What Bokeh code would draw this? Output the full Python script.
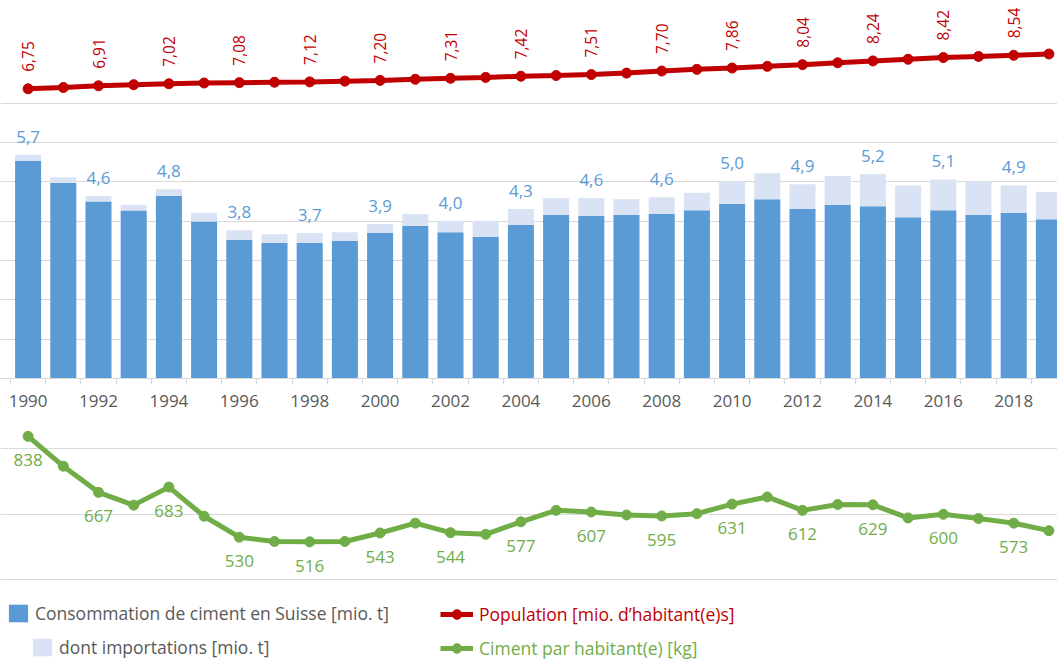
import numpy as np
from bokeh.plotting import figure
from bokeh.models import (Range1d, FixedTicker, ColumnDataSource, Legend, LegendItem, Grid)
from bokeh.layouts import column
from bokeh.core.properties import value
from bokeh.embed import file_html
from bokeh.resources import INLINE

# ---------------- data ----------------
years = list(range(1990, 2020))
consumption = [5.69, 5.12, 4.64, 4.41, 4.81, 4.21, 3.77, 3.67, 3.70, 3.72,
               3.93, 4.18, 4.01, 4.01, 4.31, 4.59, 4.59, 4.56, 4.61, 4.72,
               5.01, 5.22, 4.94, 5.15, 5.20, 4.91, 5.06, 5.01, 4.91, 4.74]
imports = [0.16, 0.14, 0.14, 0.14, 0.17, 0.22, 0.24, 0.22, 0.25, 0.22,
           0.23, 0.30, 0.29, 0.41, 0.41, 0.43, 0.46, 0.40, 0.43, 0.44,
           0.57, 0.66, 0.63, 0.74, 0.82, 0.81, 0.78, 0.85, 0.70, 0.69]
population = [6.75, 6.82, 6.91, 6.97, 7.02, 7.06, 7.08, 7.10, 7.12, 7.16,
              7.20, 7.26, 7.31, 7.36, 7.42, 7.46, 7.51, 7.59, 7.70, 7.79,
              7.86, 7.95, 8.04, 8.14, 8.24, 8.33, 8.42, 8.48, 8.54, 8.61]
cement_per_capita = [838, 747, 667, 628, 683, 594, 530, 517, 516, 517,
                     543, 573, 544, 539, 577, 612, 607, 598, 595, 602,
                     631, 653, 612, 630, 629, 589, 600, 587, 573, 550]
bar_grid = [1, 2, 3, 4, 5, 6, 7]
cpc_grid = [400, 600, 800]

legend_labels = ["Consommation de ciment en Suisse [mio. t]",
                 "dont importations [mio. t]",
                 "Population [mio. d\u2019habitant(e)s]",
                 "Ciment par habitant(e) [kg]"]

# ---------------- style ----------------
FONT = "Open Sans"
BLUE = "#5b9bd5"
LIGHT = "#dae3f3"
RED = "#c00000"
GREEN = "#70ad47"
GRID = "#d9d9d9"
TEXT = "#595959"

domestic = [c - i for c, i in zip(consumption, imports)]
src = ColumnDataSource(dict(year=years, consumption=consumption, domestic=domestic,
                            pop=population, cpc=cement_per_capita))
even = [i for i, y in enumerate(years) if y % 2 == 0]
lab = ColumnDataSource(dict(
    year=[years[i] for i in even],
    cons=[consumption[i] for i in even],
    cons_txt=[f"{consumption[i]:.1f}".replace(".", ",") for i in even],
    pop=[population[i] for i in even],
    pop_txt=[f"{population[i]:.2f}".replace(".", ",") for i in even],
    cpc=[cement_per_capita[i] for i in even],
    cpc_txt=[str(cement_per_capita[i]) for i in even],
))

W = 1057
PX_PER_YEAR = 35.2
x0 = 1989.5 - 10 / PX_PER_YEAR
x_range = Range1d(x0, x0 + W / PX_PER_YEAR)

# ---------------- top: population + bars ----------------
FRAME_A = 378
pa = figure(width=W, height=FRAME_A + 34, x_range=x_range, y_range=Range1d(0, FRAME_A / 39.33),
            output_backend="svg", toolbar_location=None, y_axis_location=None,
            min_border_left=0, min_border_right=0, min_border_top=0, min_border_bottom=34,
            outline_line_color=None, background_fill_color="white", border_fill_color="white")
pa.extra_y_ranges = {"pop": Range1d(6.75 - (FRAME_A - 88.3) / 18.7, 6.75 + 88.3 / 18.7)}
for g in pa.grid:
    g.visible = False
pa.add_layout(Grid(dimension=1, ticker=FixedTicker(ticks=bar_grid),
                   grid_line_color=GRID, grid_line_width=1.2))

ax = pa.xaxis[0]
ax.ticker = FixedTicker(ticks=[years[i] for i in even],
                        minor_ticks=[y - 0.5 for y in years] + [years[-1] + 0.5])
ax.major_tick_out = 0
ax.major_tick_in = 0
ax.minor_tick_out = 6
ax.minor_tick_in = 0
ax.minor_tick_line_color = GRID
ax.minor_tick_line_width = 1.2
ax.axis_line_color = GRID
ax.axis_line_width = 1.2
ax.major_label_text_font = FONT
ax.major_label_text_font_size = "17px"
ax.major_label_text_color = TEXT
ax.major_label_standoff = 10

pa.vbar(x="year", bottom=0, top="domestic", width=0.74, fill_color=BLUE,
        line_color=None, source=src)
pa.vbar(x="year", bottom="domestic", top="consumption", width=0.74, fill_color=LIGHT,
        line_color=None, source=src)
pa.text(x="year", y="cons", text="cons_txt", source=lab, text_font=value(FONT),
        text_font_size="17px", text_color=BLUE, text_align="center",
        text_baseline="alphabetic", y_offset=-18)

pa.line(x="year", y="pop", source=src, y_range_name="pop", line_color=RED, line_width=5)
pa.scatter(x="year", y="pop", source=src, y_range_name="pop", size=10,
           fill_color=RED, line_color=RED)
pa.text(x="year", y="pop", text="pop_txt", source=lab, y_range_name="pop",
        angle=np.pi / 2, text_align="left", text_baseline="middle", y_offset=-17,
        text_font=value(FONT), text_font_size="15.5px", text_color=RED)

# ---------------- bottom: cement per capita + legend ----------------
TOP_B = FRAME_A + 34
FRAME_B = 659 - TOP_B
px_unit = (579.3 - 448.3) / 400.0
top_val = 800 + (448.3 - TOP_B) / px_unit
bot_val = 400 - (659 - 579.3) / px_unit
pb = figure(width=W, height=FRAME_B, x_range=x_range, y_range=Range1d(bot_val, top_val),
            output_backend="svg", toolbar_location=None, x_axis_location=None,
            y_axis_location=None, min_border=0, outline_line_color=None,
            background_fill_color="white", border_fill_color="white")
for g in pb.grid:
    g.visible = False
pb.add_layout(Grid(dimension=1, ticker=FixedTicker(ticks=cpc_grid),
                   grid_line_color=GRID, grid_line_width=1.2))

g_line = pb.line(x="year", y="cpc", source=src, line_color=GREEN, line_width=5)
g_pts = pb.scatter(x="year", y="cpc", source=src, size=10, fill_color=GREEN, line_color=GREEN)
pb.text(x="year", y="cpc", text="cpc_txt", source=lab, text_font=value(FONT),
        text_font_size="17px", text_color=GREEN, text_align="center",
        text_baseline="alphabetic", y_offset=24)

# hidden legend proxies (same data, not drawn)
p_blue = pb.vbar(x="year", bottom=0, top="domestic", width=0.74, fill_color=BLUE,
                 line_color=None, source=src, visible=False)
p_light = pb.vbar(x="year", bottom="domestic", top="consumption", width=0.74,
                  fill_color=LIGHT, line_color=None, source=src, visible=False)
p_rline = pb.line(x="year", y="pop", source=src, line_color=RED, line_width=5, visible=False)
p_rpts = pb.scatter(x="year", y="pop", source=src, size=10, fill_color=RED, line_color=RED,
                    visible=False)


def add_legend(label, renderers, loc, color, gw, gh, standoff):
    lg = Legend(items=[LegendItem(label=label, renderers=renderers)], location=loc,
                orientation="vertical", padding=0, margin=0, spacing=0,
                glyph_width=gw, glyph_height=gh, label_height=gh, label_standoff=standoff,
                label_text_font=FONT, label_text_font_size="17.5px",
                label_text_color=color, label_text_baseline="middle",
                border_line_color=None, background_fill_alpha=0,
                click_policy="none", inactive_fill_alpha=0)
    pb.add_layout(lg)


add_legend(legend_labels[0], [p_blue], (6, 34), TEXT, 24, 22, 5)
add_legend(legend_labels[1], [p_light], (30, 0), TEXT, 24, 22, 5)
add_legend(legend_labels[2], [p_rline, p_rpts], (440, 33), RED, 33, 24, 6)
add_legend(legend_labels[3], [g_line, g_pts], (440, -1), GREEN, 33, 24, 6)

layout = column(pa, pb, spacing=0)
open("out.html", "w").write(file_html(layout, INLINE))
